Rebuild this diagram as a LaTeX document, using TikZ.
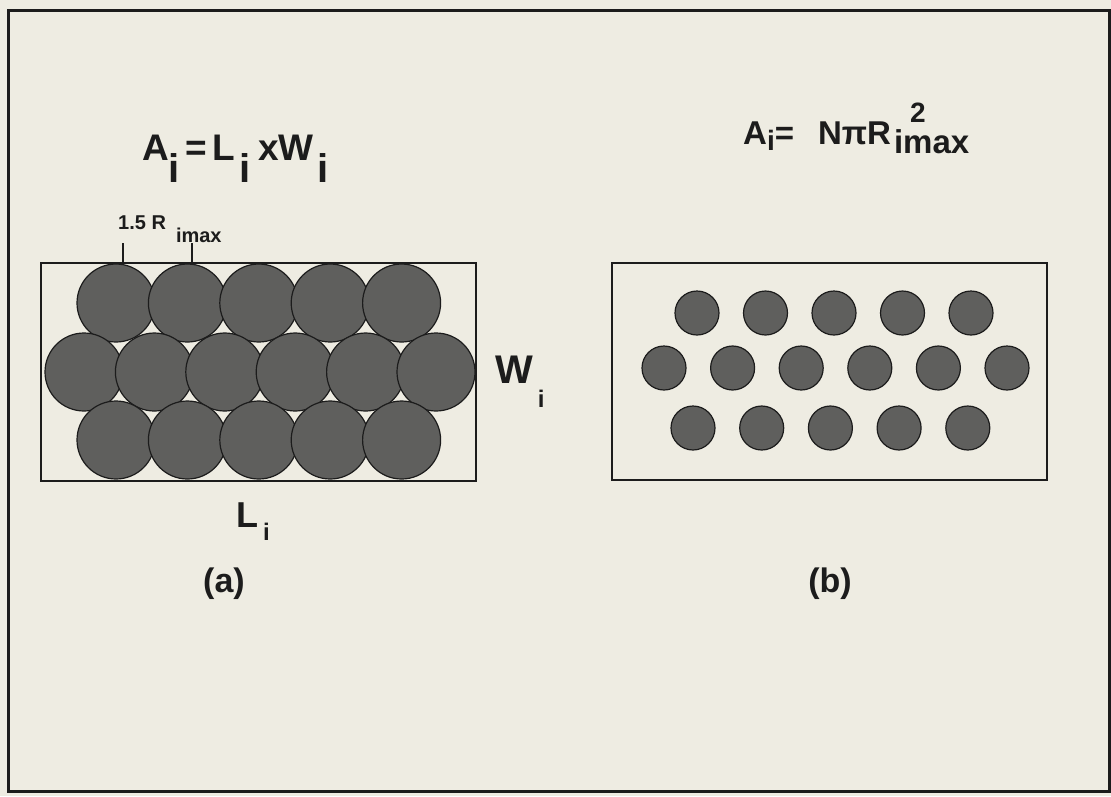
\documentclass[tikz,border=0pt]{standalone}
\usepackage{fontspec}
\setmainfont{Liberation Sans}

\definecolor{papel}{RGB}{238,236,226}
\definecolor{trama}{RGB}{95,95,93}
\definecolor{tinta}{RGB}{28,28,28}

% subindice: desplazamiento, cuerpo, texto
\newcommand{\indice}[3]{\raisebox{-#1}{\fontsize{#2}{#2}\selectfont #3}}

\tikzset{
  rotulo/.style={inner sep=0pt, text=tinta, font=\fontsize{37}{40}\selectfont\bfseries},
  circulo/.style={fill=trama, draw=tinta, line width=1.2pt},
  caja/.style={draw=tinta, line width=2pt},
}

\begin{document}
\begin{tikzpicture}[x=1pt, y=-1pt]

    % Fondo y marco exterior
    \fill[papel] (0,0) rectangle (1111,796);
    \useasboundingbox (0,0) rectangle (1111,796);
    \draw[tinta, line width=3pt] (8,10) rectangle (1109,791);

    % Variables de los circulos
    \def\radioA{39}
    \def\radioB{22}

    % (a) Circulos empaquetados
    \foreach \k in {0,...,4} \draw[circulo] ({116+71.4*\k},303) circle (\radioA);
    \foreach \k in {0,...,5} \draw[circulo] ({84+70.4*\k},372) circle (\radioA);
    \foreach \k in {0,...,4} \draw[circulo] ({116+71.4*\k},440) circle (\radioA);
    \draw[caja] (41,263) rectangle (476,481);

    % (b) Circulos separados
    \foreach \k in {0,...,4} \draw[circulo] ({697+68.5*\k},313) circle (\radioB);
    \foreach \k in {0,...,5} \draw[circulo] ({664+68.6*\k},368) circle (\radioB);
    \foreach \k in {0,...,4} \draw[circulo] ({693+68.7*\k},428) circle (\radioB);
    \draw[caja] (612,263) rectangle (1047,480);

    % Formulas
    \node[rotulo, anchor=base west] (formulaA) at (142,160)
        {A\indice{22pt}{40}{i}\hspace{5pt}=\hspace{6pt}L\hspace{4pt}\indice{22pt}{40}{i}\hspace{8pt}x\hspace{0pt}W\hspace{4pt}\indice{22pt}{40}{i}};
    \node[rotulo, font=\fontsize{33}{36}\selectfont\bfseries, anchor=base west] (formulaB) at (743,144)
        {A\indice{6pt}{28}{i}=\hspace{24pt}NπR\hspace{3pt}\raisebox{-9pt}{\rlap{\hspace{16pt}\raisebox{31pt}{\fontsize{28}{28}\selectfont 2}}imax}};

    % Medida 1.5 R
    \node[rotulo, font=\fontsize{20}{22}\selectfont\bfseries, anchor=base west] (etiquetaRadio) at (118,229)
        {1.5 R\hspace{10pt}\raisebox{-13pt}{imax}};
    \coordinate (marcaA1) at (123,243);
    \coordinate (marcaA2) at (123,263);
    \coordinate (marcaB1) at (192,243);
    \coordinate (marcaB2) at (192,263);
    \draw[tinta, line width=1.5pt] (marcaA1) -- (marcaA2);
    \draw[tinta, line width=1.5pt] (marcaB1) -- (marcaB2);

    % Lados de la caja
    \node[rotulo, font=\fontsize{40}{42}\selectfont\bfseries, anchor=base west] (etiquetaW) at (495,383)
        {W\hspace{5pt}\indice{24pt}{24}{i}};
    \node[rotulo, font=\fontsize{36}{40}\selectfont\bfseries, anchor=base west] (etiquetaL) at (236,527)
        {L\hspace{5pt}\indice{13pt}{24}{i}};

    % Rotulos (a) y (b)
    \node[rotulo, font=\fontsize{34}{36}\selectfont\bfseries, anchor=base] (rotuloA) at (224,592) {(a)};
    \node[rotulo, font=\fontsize{34}{36}\selectfont\bfseries, anchor=base] (rotuloB) at (830,592) {(b)};

\end{tikzpicture}
\end{document}
